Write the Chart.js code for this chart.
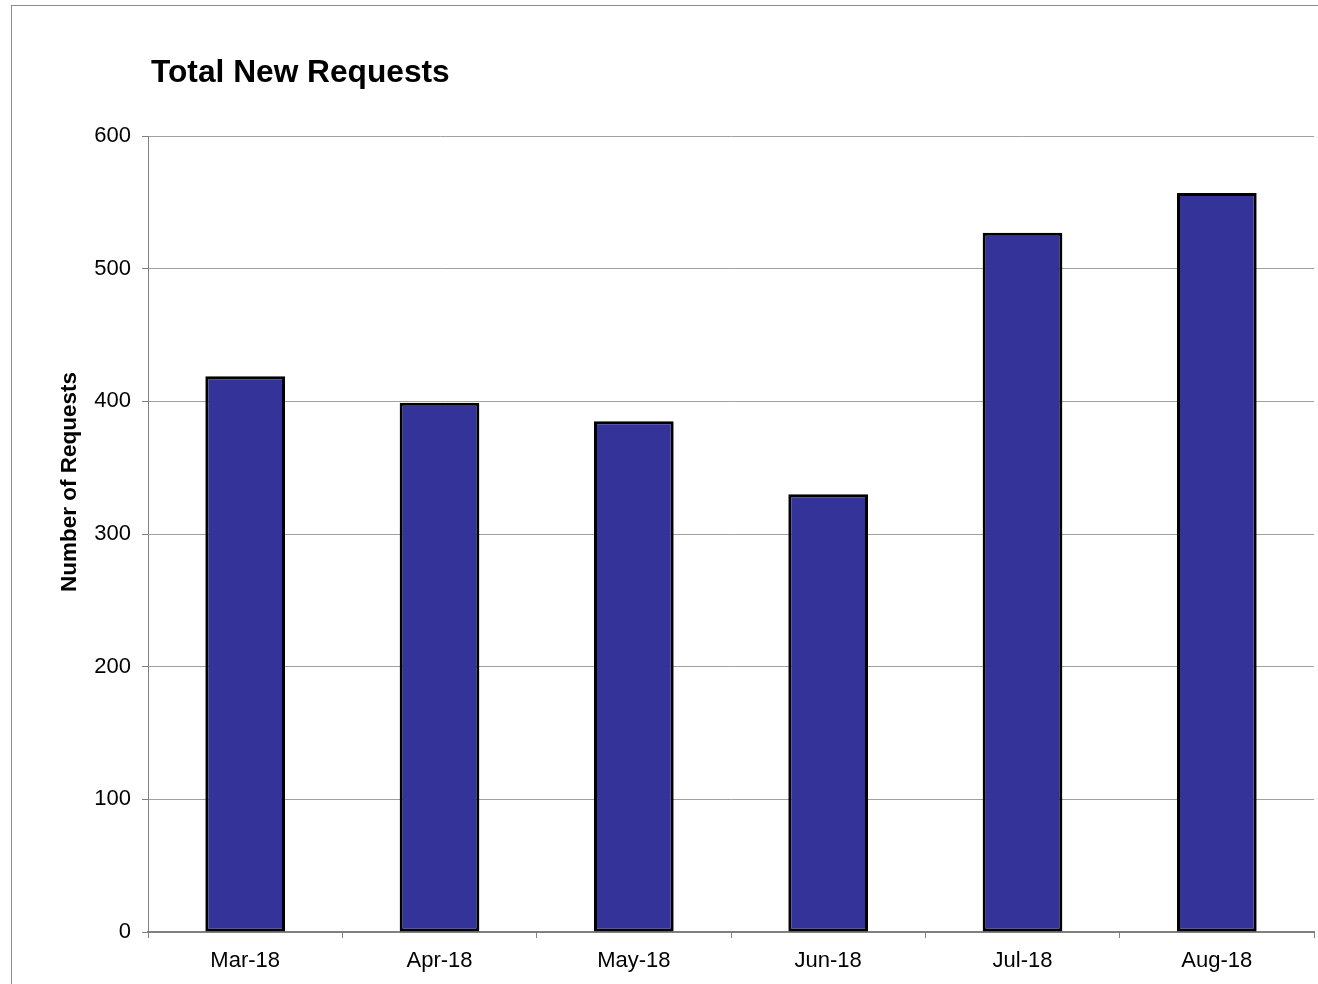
<!DOCTYPE html>
<html>
<head>
<meta charset="utf-8">
<script src="https://cdn.jsdelivr.net/npm/chart.js@4/dist/chart.umd.min.js"></script>
<style>
  html, body { margin: 0; padding: 0; background: #fff; overflow: hidden; }
  #frame { position: absolute; left: 11px; top: 5px; width: 1400px; height: 1100px;
           border-left: 1px solid #8c8c8c; border-top: 1px solid #8c8c8c; }
  #wrap { position: absolute; left: 0; top: 0; width: 1318px; height: 984px; }
</style>
</head>
<body>
<div id="frame"></div>
<div id="wrap"><canvas id="requestsChart"></canvas></div>
<script>
// Chart data
const months = ['Mar-18', 'Apr-18', 'May-18', 'Jun-18', 'Jul-18', 'Aug-18'];
const newRequests = [419, 399, 385, 330, 527, 557];
const yTicks = [0, 100, 200, 300, 400, 500, 600];

const chartTitle = 'Total New Requests';
const yAxisTitle = 'Number of Requests';

// Title and y axis title drawn at the spots the original uses
const textPlugin = {
    id: 'textPlugin',
    afterDraw(chart) {
        const ctx = chart.ctx;
        const area = chart.chartArea;
        ctx.save();
        ctx.fillStyle = '#000';
        ctx.font = 'bold 31.7px "Liberation Sans", Arial, sans-serif';
        ctx.textAlign = 'left';
        ctx.textBaseline = 'alphabetic';
        ctx.fillText(chartTitle, area.left + 3, area.top - 54);

        ctx.font = 'bold 22.5px "Liberation Sans", Arial, sans-serif';
        ctx.translate(76, 482);
        ctx.rotate(-Math.PI / 2);
        ctx.textAlign = 'center';
        ctx.fillText(yAxisTitle, 0, 0);
        ctx.restore();
    }
};

const ctx = document.getElementById('requestsChart').getContext('2d');
new Chart(ctx, {
    type: 'bar',
    data: {
        labels: months,
        datasets: [{
            label: 'New Requests',
            data: newRequests,
            backgroundColor: '#333399',
            borderColor: '#000000',
            borderWidth: 3,
            borderSkipped: false,
            barPercentage: 0.41,
            categoryPercentage: 1.0
        }]
    },
    options: {
        responsive: true,
        maintainAspectRatio: false,
        animation: false,
        layout: { padding: { top: 136, right: 4, left: 0, bottom: 0 } },
        plugins: {
            legend: { display: false },
            title: { display: false },
            tooltip: { enabled: false }
        },
        scales: {
            x: {
                afterFit(scale) { scale.height = 52; },
                grid: {
                    offset: true,
                    drawOnChartArea: false,
                    drawTicks: true,
                    tickLength: 6,
                    color: '#808080'
                },
                border: { color: '#808080', width: 2 },
                ticks: {
                    color: '#000',
                    padding: 10,
                    font: { family: '"Liberation Sans", Arial, sans-serif', size: 22 }
                }
            },
            y: {
                min: 0,
                max: 600,
                afterFit(scale) { scale.width = 148; },
                afterBuildTicks(scale) { scale.ticks = yTicks.map(v => ({ value: v })); },
                grid: {
                    color: '#a0a0a0',
                    lineWidth: 1,
                    drawTicks: true,
                    tickLength: 6,
                    tickColor: '#808080'
                },
                border: { color: '#808080', width: 1 },
                ticks: {
                    color: '#000',
                    padding: 11,
                    font: { family: '"Liberation Sans", Arial, sans-serif', size: 22 }
                }
            }
        }
    },
    plugins: [textPlugin]
});
</script>
</body>
</html>
